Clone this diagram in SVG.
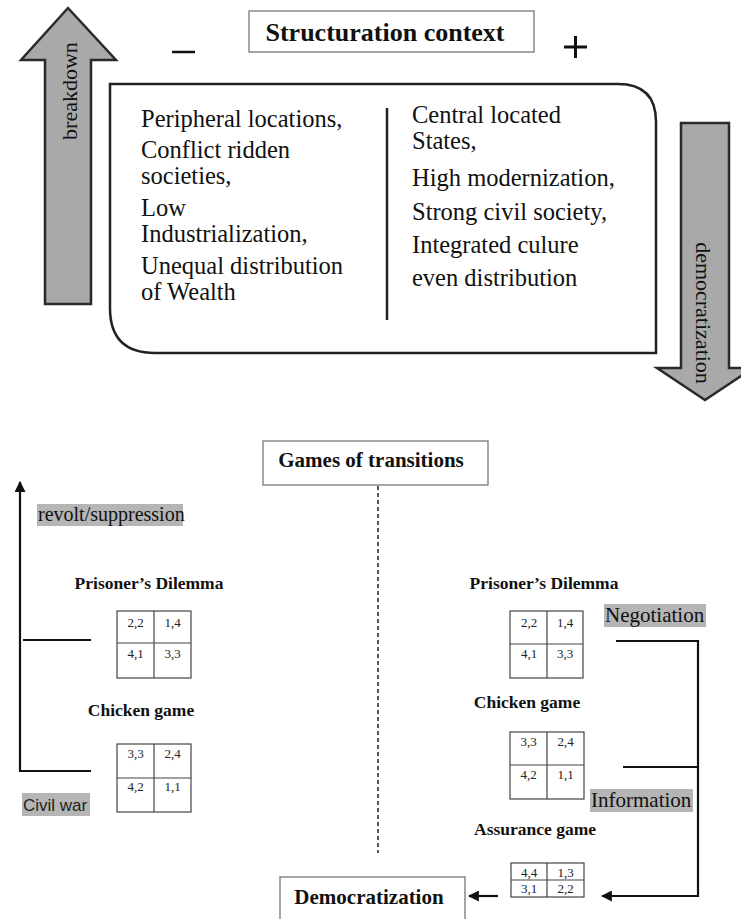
<svg xmlns="http://www.w3.org/2000/svg" width="741" height="919" viewBox="0 0 741 919">
<defs>
<style>
.serif{font-family:"Liberation Serif","Times New Roman",serif;fill:#111}
.big{font-size:24.5px}
.bold{font-weight:bold}
.num{font-family:"Liberation Serif","Times New Roman",serif;font-size:13px;fill:#222;text-anchor:middle}
.fat{fill:#a9a9a9;stroke:#2a2a2a;stroke-width:2.5;stroke-linejoin:miter}
.box{fill:#fff;stroke:#777;stroke-width:1.3}
.mat{fill:#fff;stroke:#444;stroke-width:1.2}
.hl{fill:#b5b5b5}
.line{stroke:#111;stroke-width:2.2;fill:none}
</style>
<marker id="ah" viewBox="0 0 10 10" refX="9" refY="5" markerWidth="5" markerHeight="5" orient="auto" markerUnits="strokeWidth">
<path d="M0,0 L10,5 L0,10 Z" fill="#111"/>
</marker>
</defs>
<rect width="741" height="919" fill="#fff"/>

<g id="breakdown-arrow">
<polygon class="fat" points="68,8 116,60 91,60 91,304 45,304 45,60 21,60"/>
<text class="serif" font-size="22" text-anchor="middle" transform="translate(77,91) rotate(-90)">breakdown</text>
</g>

<g id="democratization-arrow">
<polygon class="fat" points="681,123 729,123 729,368 753,368 705,400 657,368 681,368"/>
<text class="serif" font-size="22" text-anchor="middle" transform="translate(696,313) rotate(90)">democratization</text>
</g>

<g id="structuration-context">
<rect class="box" x="249" y="11" width="285" height="41"/>
<text class="serif bold" font-size="26" x="385" y="41" text-anchor="middle">Structuration context</text>
</g>

<g id="minus">
<line x1="172" y1="52" x2="195" y2="52" stroke="#111" stroke-width="2.5"/>
</g>
<g id="plus">
<line x1="564" y1="47" x2="587" y2="47" stroke="#111" stroke-width="3"/>
<line x1="575.5" y1="36" x2="575.5" y2="58" stroke="#111" stroke-width="3"/>
</g>

<g id="context-box">
<path d="M110,84 H618 Q656,84 656,122 V353 H155 Q110,353 110,308 Z" fill="#fff" stroke="#222" stroke-width="2.5"/>
<line x1="387" y1="108" x2="387" y2="320" stroke="#222" stroke-width="2.5"/>
<text class="serif big" x="141" y="127">Peripheral locations,</text>
<text class="serif big" x="141" y="158">Conflict ridden</text>
<text class="serif big" x="141" y="184">societies,</text>
<text class="serif big" x="141" y="216">Low</text>
<text class="serif big" x="141" y="242">Industrialization,</text>
<text class="serif big" x="141" y="274">Unequal distribution</text>
<text class="serif big" x="141" y="300">of Wealth</text>
<text class="serif big" x="412" y="123">Central located</text>
<text class="serif big" x="412" y="149">States,</text>
<text class="serif big" x="412" y="186">High modernization,</text>
<text class="serif big" x="412" y="220">Strong civil society,</text>
<text class="serif big" x="412" y="253">Integrated culure</text>
<text class="serif big" x="412" y="286">even distribution</text>
</g>

<g id="games-of-transitions">
<rect class="box" x="263" y="441" width="225" height="44"/>
<text class="serif bold" font-size="21" x="371" y="467" text-anchor="middle">Games of transitions</text>
</g>

<g id="democratization">
<rect class="box" x="280" y="877" width="185" height="60"/>
<text class="serif bold" font-size="21" x="369" y="904" text-anchor="middle">Democratization</text>
</g>

<g id="revolt-suppression">
<rect class="hl" x="37" y="504" width="146" height="22"/>
<text class="serif" font-size="20" x="38" y="521">revolt/suppression</text>
</g>

<g id="civil-war">
<rect class="hl" x="22" y="793" width="68" height="23"/>
<text font-family="Liberation Sans, Arial, sans-serif" font-size="17" fill="#222" x="23" y="811">Civil war</text>
</g>

<g id="negotiation">
<rect class="hl" x="604" y="604" width="102" height="23"/>
<text class="serif" font-size="21" x="605" y="622">Negotiation</text>
</g>

<g id="information">
<rect class="hl" x="590" y="789" width="103" height="23"/>
<text class="serif" font-size="21" x="591" y="807">Information</text>
</g>

<g id="left-prisoners-dilemma">
<text class="serif bold" font-size="17.5" x="149" y="589" text-anchor="middle">Prisoner’s Dilemma</text>
<rect class="mat" x="117" y="611" width="74" height="67"/>
<line x1="154" y1="611" x2="154" y2="678" stroke="#444" stroke-width="1.2"/>
<line x1="117" y1="643" x2="191" y2="643" stroke="#444" stroke-width="1.2"/>
<text class="num" x="135.5" y="627">2,2</text>
<text class="num" x="172.5" y="627">1,4</text>
<text class="num" x="135.5" y="658">4,1</text>
<text class="num" x="172.5" y="658">3,3</text>
</g>

<g id="left-chicken-game">
<text class="serif bold" font-size="17.5" x="141" y="716" text-anchor="middle">Chicken game</text>
<rect class="mat" x="117" y="744" width="74" height="68"/>
<line x1="154" y1="744" x2="154" y2="812" stroke="#444" stroke-width="1.2"/>
<line x1="117" y1="778" x2="191" y2="778" stroke="#444" stroke-width="1.2"/>
<text class="num" x="135.5" y="758">3,3</text>
<text class="num" x="172.5" y="758">2,4</text>
<text class="num" x="135.5" y="791">4,2</text>
<text class="num" x="172.5" y="791">1,1</text>
</g>

<g id="right-prisoners-dilemma">
<text class="serif bold" font-size="17.5" x="544" y="589" text-anchor="middle">Prisoner’s Dilemma</text>
<rect class="mat" x="510" y="611" width="73" height="67"/>
<line x1="547" y1="611" x2="547" y2="678" stroke="#444" stroke-width="1.2"/>
<line x1="510" y1="644" x2="583" y2="644" stroke="#444" stroke-width="1.2"/>
<text class="num" x="529" y="627">2,2</text>
<text class="num" x="565" y="627">1,4</text>
<text class="num" x="529" y="658">4,1</text>
<text class="num" x="565" y="658">3,3</text>
</g>

<g id="right-chicken-game">
<text class="serif bold" font-size="17.5" x="527" y="708" text-anchor="middle">Chicken game</text>
<rect class="mat" x="510" y="732" width="74" height="67"/>
<line x1="547" y1="732" x2="547" y2="799" stroke="#444" stroke-width="1.2"/>
<line x1="510" y1="765" x2="584" y2="765" stroke="#444" stroke-width="1.2"/>
<text class="num" x="528.5" y="746">3,3</text>
<text class="num" x="565.5" y="746">2,4</text>
<text class="num" x="528.5" y="779">4,2</text>
<text class="num" x="565.5" y="779">1,1</text>
</g>

<g id="assurance-game">
<text class="serif bold" font-size="17.5" x="535" y="835" text-anchor="middle">Assurance game</text>
<rect class="mat" x="511" y="863" width="73" height="34"/>
<line x1="547" y1="863" x2="547" y2="897" stroke="#444" stroke-width="1.2"/>
<line x1="511" y1="880" x2="584" y2="880" stroke="#444" stroke-width="1.2"/>
<text class="num" font-size="14" x="529" y="877">4,4</text>
<text class="num" font-size="14" x="565.5" y="877">1,3</text>
<text class="num" font-size="14" x="529" y="893">3,1</text>
<text class="num" font-size="14" x="565.5" y="893">2,2</text>
</g>

<g id="connectors">
<line x1="378" y1="486" x2="378" y2="853" stroke="#222" stroke-width="1.5" stroke-dasharray="4,3"/>
<path class="line" d="M20,771 V482" marker-end="url(#ah)"/>
<line class="line" x1="19" y1="771" x2="91" y2="771" stroke-width="2"/>
<line class="line" x1="23" y1="640" x2="91" y2="640" stroke-width="1.8"/>
<path class="line" d="M616,641 H698 V896 H602" marker-end="url(#ah)"/>
<line class="line" x1="623" y1="767" x2="698" y2="767" stroke-width="1.8"/>
<path class="line" d="M498,896 H469" marker-end="url(#ah)"/>
</g>
</svg>
